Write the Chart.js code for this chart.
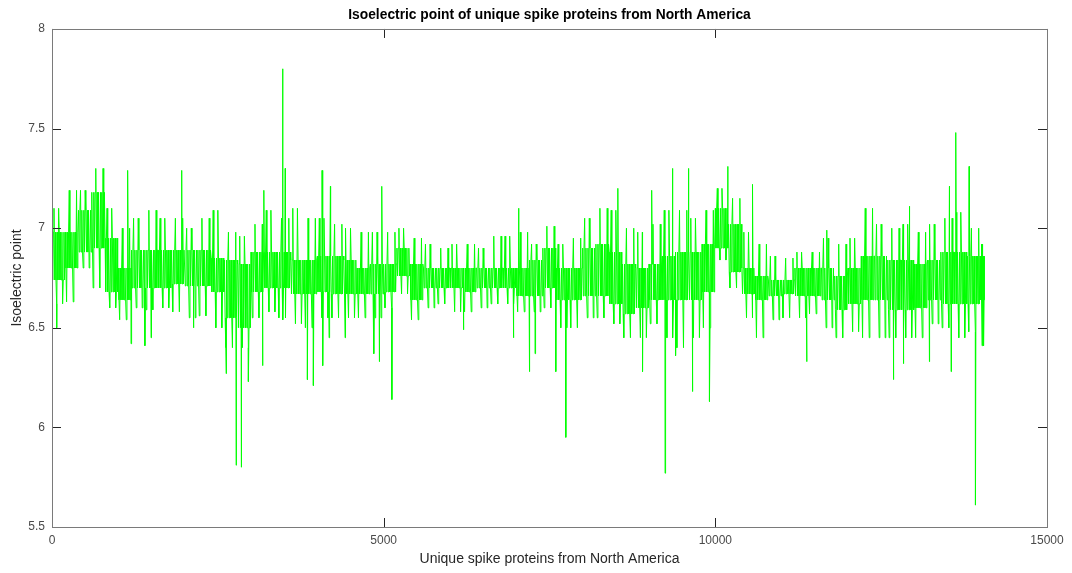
<!DOCTYPE html>
<html>
<head>
<meta charset="utf-8">
<script src="https://cdn.jsdelivr.net/npm/chart.js@4/dist/chart.umd.min.js"></script>
<style>
html,body{margin:0;padding:0;background:#fff;}
#wrap{width:1072px;height:573px;position:relative;}
</style>
</head>
<body>
<div id="wrap"><canvas id="c" width="1072" height="573"></canvas></div>
<script>
// ---- Data (values summarised per 200-protein bin) ----
const binWidth = 200;
const lastIndex = 14060;
// dense core band (upper / lower edge) per bin
const coreHigh = [6.98,6.98,7.09,7.18,6.95,6.80,6.89,6.89,6.89,6.89,
                  6.89,6.89,6.85,6.84,6.82,6.88,6.88,6.88,6.84,6.84,
                  6.86,6.86,6.84,6.80,6.82,6.82,6.90,6.82,6.80,6.80,
                  6.80,6.80,6.80,6.80,6.80,6.80,6.84,6.90,6.80,6.80,
                  6.90,6.92,6.88,6.82,6.80,6.82,6.86,6.88,6.88,6.92,
                  7.10,7.02,6.80,6.76,6.74,6.74,6.80,6.80,6.80,6.76,
                  6.80,6.86,6.86,6.84,6.84,6.82,6.84,6.88,6.88,6.86,6.86];
const coreLow  = [6.74,6.80,6.88,6.90,6.68,6.64,6.70,6.70,6.70,6.72,
                  6.71,6.71,6.68,6.55,6.50,6.68,6.70,6.70,6.67,6.67,
                  6.68,6.67,6.67,6.67,6.67,6.68,6.76,6.64,6.70,6.70,
                  6.70,6.68,6.70,6.70,6.70,6.66,6.66,6.70,6.64,6.64,
                  6.66,6.66,6.62,6.57,6.60,6.64,6.64,6.64,6.64,6.68,
                  6.90,6.78,6.67,6.64,6.66,6.67,6.66,6.66,6.64,6.59,
                  6.62,6.64,6.64,6.59,6.59,6.60,6.64,6.62,6.62,6.62,6.64];
// frequent outer excursions per bin
const outerHigh = [7.10,7.19,7.19,7.30,7.10,7.00,7.05,7.09,7.05,7.05,
                   7.00,7.05,7.09,6.98,6.96,7.02,7.09,7.05,7.10,7.05,
                   7.05,7.02,7.00,6.98,6.98,6.98,7.00,6.95,6.92,6.90,
                   6.92,6.92,6.90,6.96,6.96,6.98,6.92,7.01,6.92,6.95,
                   7.05,7.10,7.09,7.00,6.98,7.02,7.09,7.09,7.05,7.09,
                   7.20,7.15,6.98,6.92,6.86,6.85,6.88,6.88,6.95,6.92,
                   6.95,7.10,7.02,7.00,7.02,6.98,7.02,7.05,7.08,7.00,6.92];
const outerLow  = [6.62,6.63,6.80,6.70,6.60,6.54,6.60,6.59,6.60,6.58,
                   6.55,6.56,6.50,6.40,6.40,6.55,6.58,6.55,6.52,6.50,
                   6.55,6.55,6.55,6.55,6.55,6.60,6.67,6.54,6.60,6.62,
                   6.58,6.58,6.60,6.62,6.62,6.58,6.58,6.60,6.50,6.50,
                   6.55,6.55,6.52,6.45,6.45,6.52,6.45,6.40,6.45,6.50,
                   6.84,6.70,6.55,6.45,6.54,6.55,6.55,6.57,6.50,6.45,
                   6.48,6.45,6.45,6.45,6.45,6.45,6.52,6.50,6.45,6.48,6.41];
// isolated spikes: protein index and isoelectric point
const spikeX = [70,1140,1191,1400,1493,1955,2130,2625,2776,2851,2960,3173,3193,
                3475,3480,3515,3850,3940,4071,4081,4177,4197,4418,4851,4932,4972,5123,
                6200,6957,7032,7198,7282,7594,7745,8530,8902,9040,9242,9352,9400,
                9594,9654,9911,10187,10560,11378,11680,12684,12835,12925,13227,
                13529,13554,13624,13826,13921];
const spikeY = [6.50,7.29,6.42,6.41,6.45,7.29,6.50,6.27,5.81,5.80,6.23,6.31,7.19,
                7.80,6.54,7.30,6.24,6.21,7.29,6.31,6.45,7.21,6.45,6.37,6.33,7.21,6.14,
                6.49,6.45,7.10,6.28,6.37,6.28,5.95,7.20,6.28,7.19,5.77,7.30,6.36,
                7.30,6.18,6.13,7.31,7.22,6.33,6.99,6.24,6.32,7.11,6.33,
                7.21,6.28,7.48,7.31,5.61];
const xTickValues = [0,5000,10000,15000];
const xTickLabels = ['0','5000','10000','15000'];
const yTickValues = [5.5,6,6.5,7,7.5,8];
const yTickLabels = ['5.5','6','6.5','7','7.5','8'];

// ---- expand bins into a dense trace, merged with spikes ----
const patternA = ['H','L','H','h','L','H','L','l','H','L','h','H','L','H','L','H','l','L','H','L'];
const patternB = ['H','L','l','H','L','H','h','L','H','L','H','L','l','H','L','H','L','h','L','H'];
const pts = [];
for (let i = 0; i < coreHigh.length; i++) {
  const x0 = i * binWidth;
  const x1 = Math.min(x0 + binWidth, lastIndex);
  const pattern = i % 2 ? patternB : patternA;
  const n = pattern.length;
  for (let k = 0; k < n; k++) {
    const p = pattern[k];
    const v = p === 'H' ? coreHigh[i] : p === 'L' ? coreLow[i] : p === 'h' ? outerHigh[i] : outerLow[i];
    pts.push({x: x0 + k * (x1 - x0) / n, y: v});
  }
}
for (let j = 0; j < spikeX.length; j++) pts.push({x: spikeX[j] + 0.5, y: spikeY[j]});
pts.sort((a, b) => a.x - b.x);

const FONT = 'Liberation Sans, Arial, Helvetica, sans-serif';

const boxPlugin = {
  id: 'box',
  afterDraw(chart) {
    const {ctx, chartArea: a, scales} = chart;
    ctx.save();
    ctx.strokeStyle = '#262626';
    ctx.lineWidth = 1;
    ctx.beginPath();
    const tl = 9;
    xTickValues.forEach(v => {
      const px = Math.round(scales.x.getPixelForValue(v)) + 0.5;
      ctx.moveTo(px, a.bottom); ctx.lineTo(px, a.bottom - tl);
      ctx.moveTo(px, a.top); ctx.lineTo(px, a.top + tl);
    });
    yTickValues.forEach(v => {
      const py = Math.round(scales.y.getPixelForValue(v)) + 0.5;
      ctx.moveTo(a.left, py); ctx.lineTo(a.left + tl, py);
      ctx.moveTo(a.right, py); ctx.lineTo(a.right - tl, py);
    });
    ctx.stroke();
    ctx.strokeStyle = '#7a7a7a';
    ctx.strokeRect(Math.round(a.left) + 0.5, Math.round(a.top) + 0.5,
                   Math.round(a.right - a.left), Math.round(a.bottom - a.top));
    ctx.restore();
  }
};

new Chart(document.getElementById('c'), {
  type: 'line',
  data: {
    datasets: [{
      data: pts,
      borderColor: '#00ff00',
      borderWidth: 1,
      pointRadius: 0,
      tension: 0,
      fill: false
    }]
  },
  options: {
    responsive: false,
    animation: false,
    parsing: false,
    normalized: true,
    events: [],
    layout: {padding: {left: 0, right: 25, top: 0, bottom: 0}},
    plugins: {
      legend: {display: false},
      tooltip: {enabled: false},
      title: {
        display: true,
        fullSize: false,
        text: 'Isoelectric point of unique spike proteins from North America',
        color: '#000',
        font: {family: FONT, size: 13.8, weight: 'bold'},
        padding: {top: 6.5, bottom: 5.9}
      }
    },
    scales: {
      x: {
        type: 'linear',
        min: 0, max: 15000,
        afterBuildTicks: s => { s.ticks = xTickValues.map(v => ({value: v})); },
        ticks: {
          callback: (v) => xTickLabels[xTickValues.indexOf(v)],
          color: '#4a4a4a',
          font: {family: FONT, size: 12},
          padding: 6,
          maxRotation: 0,
          autoSkip: false
        },
        grid: {display: false, drawTicks: false},
        border: {display: false},
        title: {
          display: true,
          text: 'Unique spike proteins from North America',
          color: '#262626',
          font: {family: FONT, size: 14},
          padding: {top: 0, bottom: 5}
        },
        afterFit: s => { s.height = 46; }
      },
      y: {
        type: 'linear',
        min: 5.5, max: 8,
        afterBuildTicks: s => { s.ticks = yTickValues.map(v => ({value: v})); },
        ticks: {
          callback: (v) => yTickLabels[yTickValues.indexOf(v)],
          color: '#4a4a4a',
          font: {family: FONT, size: 12},
          padding: 7,
          autoSkip: false
        },
        grid: {display: false, drawTicks: false},
        border: {display: false},
        title: {
          display: true,
          text: 'Isoelectric point',
          color: '#262626',
          font: {family: FONT, size: 14},
          padding: {top: 9, bottom: 0}
        },
        afterFit: s => { s.width = 52; }
      }
    }
  },
  plugins: [boxPlugin]
});
</script>
</body>
</html>
